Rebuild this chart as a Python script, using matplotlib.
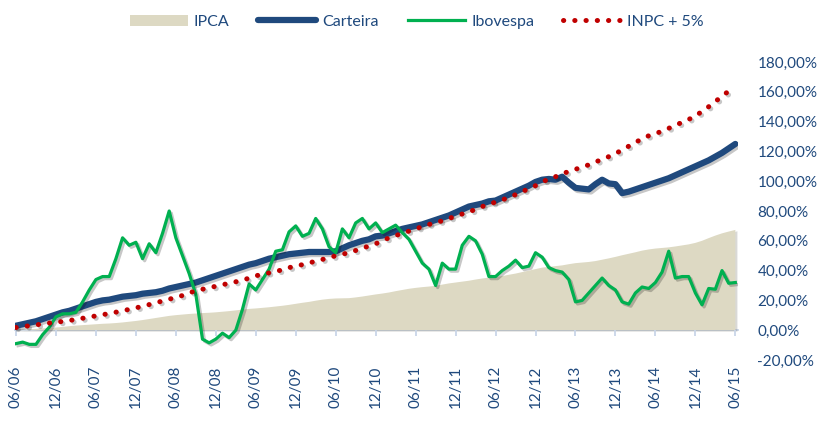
import matplotlib
matplotlib.use("Agg")
import matplotlib.pyplot as plt
import matplotlib.patheffects as pe
from matplotlib.patches import Patch
from matplotlib.lines import Line2D
import numpy as np

# monthly accumulated returns (%), 06/2006 .. 06/2015
ipca = [0.2, 0.4, 0.6, 0.9, 1.2, 1.5, 1.8, 2.2, 2.7, 3.1, 3.4, 3.7, 4.0, 4.3, 4.5, 4.8,
        5.2, 5.7, 6.2, 6.8, 7.5, 8.2, 8.9, 9.6, 10.1, 10.5, 10.9, 11.2, 11.5, 11.7, 12.0,
        12.4, 12.8, 13.3, 13.8, 14.3, 14.6, 15.0, 15.4, 15.9, 16.4, 17.0, 17.7, 18.4, 19.0,
        19.8, 20.5, 21.0, 21.3, 21.4, 21.5, 22.0, 22.6, 23.3, 24.0, 24.6, 25.3, 26.2, 27.0,
        27.8, 28.4, 28.9, 29.3, 29.8, 30.6, 31.4, 32.0, 32.6, 33.2, 34.0, 34.7, 35.3, 35.7,
        36.3, 37.2, 38.0, 39.0, 40.0, 41.0, 42.0, 42.5, 43.0, 43.5, 44.3, 45.0, 45.4, 45.8,
        46.4, 47.3, 48.2, 49.2, 50.3, 51.3, 52.3, 53.4, 54.2, 54.8, 55.2, 55.6, 56.2, 56.9,
        57.6, 58.6, 60.0, 61.8, 63.5, 65.0, 66.2, 67.3]

carteira = [3.0, 4.0, 5.0, 6.0, 7.5, 9.0, 10.5, 12.0, 13.0, 14.5, 16.0, 17.5, 19.0, 20.0,
            20.5, 21.5, 22.5, 23.0, 23.5, 24.5, 25.0, 25.5, 26.5, 28.0, 29.0, 30.0, 31.0,
            32.0, 33.5, 35.0, 36.5, 38.0, 39.5, 41.0, 42.5, 44.0, 45.0, 46.5, 48.0, 49.0,
            50.0, 51.0, 51.5, 52.0, 52.5, 52.5, 52.5, 52.5, 53.0, 55.0, 57.0, 58.5, 60.0,
            61.0, 63.0, 63.5, 65.0, 66.5, 68.0, 69.0, 70.0, 71.0, 72.5, 74.0, 75.5, 77.0,
            79.0, 81.0, 83.0, 84.0, 85.0, 86.5, 87.0, 89.0, 91.0, 93.0, 95.0, 97.0, 99.5,
            101.0, 101.5, 101.0, 103.0, 99.0, 95.5, 95.0, 94.5, 98.0, 101.0, 98.5, 98.0,
            92.0, 93.0, 94.5, 96.0, 97.5, 99.0, 100.5, 102.0, 104.0, 106.0, 108.0, 110.0,
            112.0, 114.0, 116.5, 119.0, 122.0, 125.0]

ibovespa = [-9, -8, -9.5, -9.5, -3, 2, 9, 11, 11, 12, 19, 27, 34, 36, 36, 48, 62, 57, 59,
            48, 58, 52, 65, 80, 62, 50, 38, 24, -6, -8.5, -6, -2, -5, 0, 14, 31, 27, 34,
            41, 53, 54, 66, 70, 63, 65, 75, 68, 56, 52, 68, 62, 72, 75, 68, 72, 65.5, 68,
            70.5, 65.5, 61, 53, 45, 41, 30, 45, 41, 41, 57, 63, 60, 51, 36, 36, 40, 43, 47,
            42, 43, 52, 49, 42, 40, 39, 34, 19, 20, 25, 30, 35, 30, 27, 19, 17.5, 25, 29,
            28, 32, 39, 53, 35, 36, 36, 25, 17, 28, 27.5, 40, 31.5, 32]

inpc5 = [1.8, 2.4, 3.0, 3.6, 4.2, 4.8, 5.3, 5.9, 6.5, 7.2, 8.0, 8.8, 9.6, 10.4, 11.2, 12.1,
         13.0, 14.0, 15.0, 16.0, 17.2, 18.4, 19.6, 20.8, 22.0, 23.3, 25.0, 26.5, 27.5, 28.5,
         29.5, 30.5, 31.5, 32.5, 33.5, 35.0, 36.5, 37.5, 38.5, 39.5, 40.5, 42.0, 43.0, 44.0,
         45.0, 46.5, 47.5, 48.5, 50.0, 51.0, 52.0, 53.5, 55.0, 56.5, 58.0, 60.0, 62.0, 63.5,
         65.0, 66.5, 68.0, 69.5, 71.0, 72.0, 73.5, 75.0, 76.5, 78.0, 79.5, 81.0, 83.0, 84.5,
         86.0, 87.5, 89.0, 91.0, 93.0, 95.0, 97.0, 99.5, 101.5, 103.0, 105.0, 106.5, 108.0,
         109.5, 111.0, 113.0, 114.5, 116.5, 118.5, 121.0, 123.5, 126.0, 128.5, 130.5, 132.0,
         133.5, 135.5, 137.5, 139.5, 141.5, 143.5, 147.0, 150.0, 153.5, 157.0, 160.5, 163.0]

tick_labels = ["06/06", "12/06", "06/07", "12/07", "06/08", "12/08", "06/09", "12/09",
               "06/10", "12/10", "06/11", "12/11", "06/12", "12/12", "06/13", "12/13",
               "06/14", "12/14", "06/15"]

labels = ["IPCA", "Carteira", "Ibovespa", "INPC + 5%"]

C_IPCA = "#DDD9C3"
C_CART = "#1F497D"
C_IBOV = "#00B050"
C_INPC = "#C00000"
C_TEXT = "#1F497D"
C_AXIS = "#C9D6E8"

plt.rcParams["font.family"] = ["Lato", "DejaVu Sans"]

x = np.arange(len(ipca))
shadow = [pe.SimpleLineShadow(offset=(1.5, -1.5), shadow_color="k", alpha=0.22), pe.Normal()]

fig = plt.figure(figsize=(8.24, 4.21), dpi=100)
ax = fig.add_axes([15 / 824, 61 / 421, 723 / 824, 298 / 421])

area = ax.fill_between(x, 0, ipca, color=C_IPCA, lw=0, zorder=1)
area.set_path_effects([pe.SimplePatchShadow(offset=(1.5, -1), alpha=0.2), pe.Normal()])

ax.plot(x, carteira, color=C_CART, lw=4.5, solid_capstyle="round", solid_joinstyle="round",
        zorder=3, path_effects=shadow)
ax.plot(x, ibovespa, color=C_IBOV, lw=2.3, solid_joinstyle="round", zorder=4, path_effects=shadow)
ax.plot(x, inpc5, color=C_INPC, lw=3.6, linestyle=(0, (0.05, 2.2)), dash_capstyle="round",
        zorder=5, path_effects=shadow)

ax.set_xlim(-0.15, 108.4)
ax.set_ylim(-20, 180)

for s in ["top", "left", "right"]:
    ax.spines[s].set_visible(False)
ax.spines["bottom"].set_position(("data", 0))
ax.spines["bottom"].set_color(C_AXIS)
ax.spines["bottom"].set_linewidth(1.3)
ax.spines["bottom"].set_zorder(0.5)

ticks = np.arange(0, 109, 6)
ax.set_xticks(ticks)
ax.tick_params(axis="x", direction="out", length=4, width=1.3, color=C_AXIS, labelbottom=False)

yt = np.arange(-20, 181, 20)
ax.yaxis.tick_right()
ax.set_yticks(yt, [f"{v:.2f}%".replace(".", ",") for v in yt])
ax.tick_params(axis="y", length=0, pad=14, labelsize=11, labelcolor=C_TEXT)

sec = ax.secondary_xaxis("bottom")
sec.set_xticks(ticks, tick_labels)
sec.tick_params(length=0, pad=4, labelsize=11, labelcolor=C_TEXT, labelrotation=90)
sec.spines["bottom"].set_visible(False)

handles = [
    Patch(facecolor=C_IPCA, edgecolor="none"),
    Line2D([], [], color=C_CART, lw=4.5, solid_capstyle="round"),
    Line2D([], [], color=C_IBOV, lw=2.3),
    Line2D([], [], color=C_INPC, lw=3.6, linestyle=(0, (0.05, 2.2)), dash_capstyle="round"),
]
fig.legend(handles, labels, loc="center", bbox_to_anchor=(0.506, 1 - 22 / 421), ncol=4,
           frameon=False, fontsize=11.5, labelcolor=C_TEXT, handlelength=3.6,
           handletextpad=0.4, columnspacing=1.8)

fig.savefig("out.png", dpi=100)
